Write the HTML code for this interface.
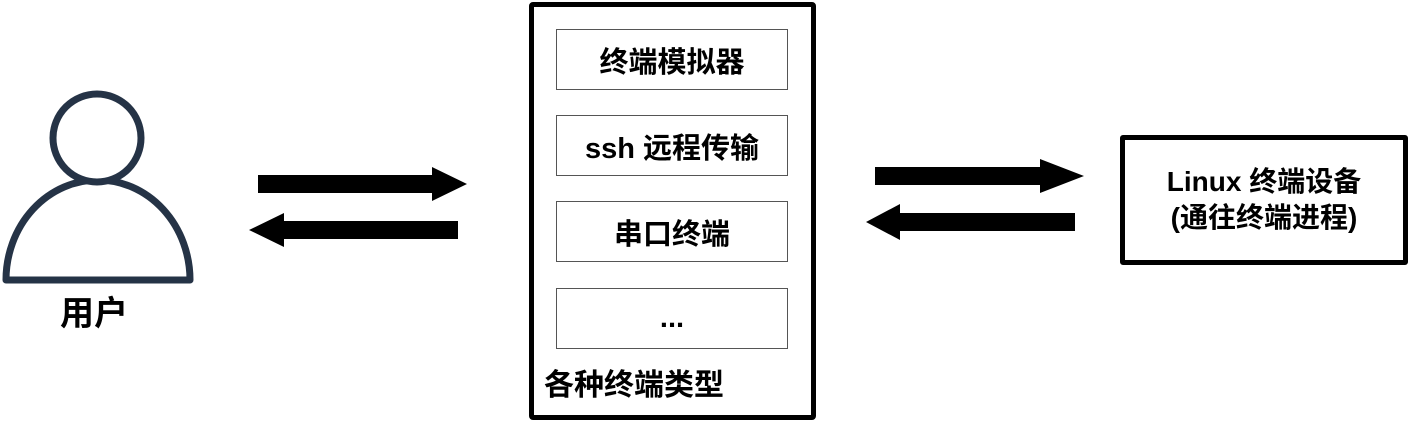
<!DOCTYPE html>
<html><head><meta charset="utf-8"><style>
body{margin:0;background:#fff;width:1409px;height:422px;overflow:hidden;position:relative;font-family:"Liberation Sans","Noto Sans CJK SC",sans-serif;font-weight:bold;color:#000}
.b{position:absolute;box-sizing:border-box}
.in{border:1.5px solid #555;left:556px;width:232px;height:61px;display:flex;align-items:center;justify-content:center;font-size:29px}
</style></head><body>
<svg class="b" style="left:0;top:0" width="1409" height="422">
<path d="M6 280 A92 100 0 0 1 190 280 Z" fill="#fff" stroke="#253346" stroke-width="7" stroke-linejoin="round"/>
<circle cx="97" cy="138" r="44" fill="#fff" stroke="#253346" stroke-width="7"/>
<polygon points="258,175 432,175 432,167 467,184 432,201 432,193 258,193" fill="#000"/>
<polygon points="458,221 284,221 284,213 249,230 284,247 284,239 458,239" fill="#000"/>
<polygon points="875,167 1040,167 1040,159 1084,176 1040,193 1040,185 875,185" fill="#000"/>
<polygon points="1075,213 900,213 900,204 866,222 900,240 900,231 1075,231" fill="#000"/>
</svg>
<div class="b" style="left:60px;top:292px;font-size:34px;line-height:44px">用户</div>
<div class="b" style="left:529px;top:2px;width:287px;height:418px;border:5px solid #000;border-radius:4px"></div>
<div class="b in" style="top:29px">终端模拟器</div>
<div class="b in" style="top:115px">ssh 远程传输</div>
<div class="b in" style="top:201px">串口终端</div>
<div class="b in" style="top:288px">...</div>
<div class="b" style="left:544px;top:365px;font-size:30px;line-height:42px">各种终端类型</div>
<div class="b" style="left:1120px;top:135px;width:288px;height:130px;border:5px solid #000;border-radius:3px;display:flex;flex-direction:column;align-items:center;justify-content:center;font-size:28px;line-height:36px">
<div>Linux 终端设备</div><div>(通往终端进程)</div></div>
</body></html>
